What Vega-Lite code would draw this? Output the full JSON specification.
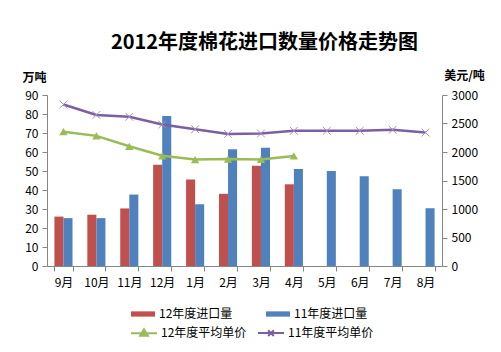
{
  "$schema": "https://vega.github.io/schema/vega-lite/v6.json",
  "autosize": "none",
  "width": 395,
  "height": 171,
  "padding": {"left": 47, "right": 59, "top": 95, "bottom": 86},
  "background": "white",
  "config": {
    "font": "Noto Sans CJK SC",
    "view": {"stroke": null},
    "axis": {"labelFont": "Noto Sans CJK SC", "labelFontSize": 12, "labelColor": "#000000", "domainColor": "#868686", "tickColor": "#868686", "grid": false, "titleFont": "Noto Sans CJK SC"},
    "legend": {"labelFont": "Noto Sans CJK SC", "labelFontSize": 12, "labelColor": "#000000"}
  },
  "title": {"text": "2012年度棉花进口数量价格走势图", "fontSize": 20, "fontWeight": "bold", "font": "Noto Sans CJK SC", "color": "#000000", "offset": 16, "dx": 20},
  "data": {"values": [
    {"month": "9月", "series": "12年度进口量", "value": 26},
    {"month": "10月", "series": "12年度进口量", "value": 27},
    {"month": "11月", "series": "12年度进口量", "value": 30.3},
    {"month": "12月", "series": "12年度进口量", "value": 53.3},
    {"month": "1月", "series": "12年度进口量", "value": 45.5},
    {"month": "2月", "series": "12年度进口量", "value": 38},
    {"month": "3月", "series": "12年度进口量", "value": 52.8},
    {"month": "4月", "series": "12年度进口量", "value": 43},
    {"month": "9月", "series": "11年度进口量", "value": 25.2},
    {"month": "10月", "series": "11年度进口量", "value": 25.2},
    {"month": "11月", "series": "11年度进口量", "value": 37.6},
    {"month": "12月", "series": "11年度进口量", "value": 79},
    {"month": "1月", "series": "11年度进口量", "value": 32.5},
    {"month": "2月", "series": "11年度进口量", "value": 61.5},
    {"month": "3月", "series": "11年度进口量", "value": 62.2},
    {"month": "4月", "series": "11年度进口量", "value": 51},
    {"month": "5月", "series": "11年度进口量", "value": 50},
    {"month": "6月", "series": "11年度进口量", "value": 47.3},
    {"month": "7月", "series": "11年度进口量", "value": 40.4},
    {"month": "8月", "series": "11年度进口量", "value": 30.4},
    {"month": "9月", "series": "12年度平均单价", "price": 2357},
    {"month": "10月", "series": "12年度平均单价", "price": 2283},
    {"month": "11月", "series": "12年度平均单价", "price": 2100},
    {"month": "12月", "series": "12年度平均单价", "price": 1933},
    {"month": "1月", "series": "12年度平均单价", "price": 1867},
    {"month": "2月", "series": "12年度平均单价", "price": 1877},
    {"month": "3月", "series": "12年度平均单价", "price": 1870},
    {"month": "4月", "series": "12年度平均单价", "price": 1930},
    {"month": "9月", "series": "11年度平均单价", "price": 2833},
    {"month": "10月", "series": "11年度平均单价", "price": 2650},
    {"month": "11月", "series": "11年度平均单价", "price": 2617},
    {"month": "12月", "series": "11年度平均单价", "price": 2483},
    {"month": "1月", "series": "11年度平均单价", "price": 2400},
    {"month": "2月", "series": "11年度平均单价", "price": 2317},
    {"month": "3月", "series": "11年度平均单价", "price": 2325},
    {"month": "4月", "series": "11年度平均单价", "price": 2372},
    {"month": "5月", "series": "11年度平均单价", "price": 2372},
    {"month": "6月", "series": "11年度平均单价", "price": 2372},
    {"month": "7月", "series": "11年度平均单价", "price": 2390},
    {"month": "8月", "series": "11年度平均单价", "price": 2342}
  ]},
  "encoding": {
    "x": {
      "field": "month", "type": "nominal",
      "scale": {"domain": ["9月","10月","11月","12月","1月","2月","3月","4月","5月","6月","7月","8月"], "paddingInner": 0.45, "paddingOuter": 0.225},
      "axis": {"title": null, "labelAngle": 0, "tickBand": "extent", "tickSize": 5, "labelPadding": 6}
    }
  },
  "layer": [
    {
      "transform": [{"filter": "datum.value != null"}],
      "mark": {"type": "bar"},
      "encoding": {
        "xOffset": {"field": "series", "type": "nominal", "scale": {"domain": ["12年度进口量", "11年度进口量"], "paddingInner": 0}},
        "y": {
          "field": "value", "type": "quantitative",
          "scale": {"domain": [0, 90], "nice": false},
          "axis": {"title": "万吨", "titleAngle": 0, "titleAlign": "center", "titleBaseline": "middle", "titleX": -13, "titleY": -18, "titleFontSize": 12, "titleFontWeight": "bold", "values": [0,10,20,30,40,50,60,70,80,90], "tickSize": 5, "labelPadding": 4, "labelOverlap": false}
        },
        "color": {
          "field": "series", "type": "nominal",
          "scale": {"domain": ["12年度进口量", "11年度进口量"], "range": ["#C0504D", "#4F81BD"]},
          "legend": {"title": null, "orient": "none", "legendX": 83, "legendY": 206, "direction": "horizontal", "symbolType": "M-1,-0.22H1V0.22H-1Z", "symbolSize": 576, "symbolOpacity": 1, "columnPadding": 32, "labelOffset": 3}
        }
      }
    },
    {
      "transform": [{"filter": "datum.price != null"}],
      "encoding": {
        "y": {
          "field": "price", "type": "quantitative",
          "scale": {"domain": [0, 3000], "nice": false},
          "axis": {"orient": "right", "title": "美元/吨", "titleAngle": 0, "titleAlign": "center", "titleBaseline": "middle", "titleX": 22, "titleY": -20, "titleFontSize": 12, "titleFontWeight": "bold", "values": [0,500,1000,1500,2000,2500,3000], "format": "d", "tickSize": 5, "labelPadding": 4, "labelOverlap": false}
        }
      },
      "layer": [
        {
          "mark": {"type": "line", "strokeWidth": 2.5},
          "encoding": {
            "stroke": {
              "field": "series", "type": "nominal",
              "scale": {"domain": ["12年度平均单价", "11年度平均单价"], "range": ["#9BBB59", "#7B5FA3"]},
              "legend": {
                "title": null, "orient": "none", "legendX": 83, "legendY": 224, "direction": "horizontal",
                "symbolSize": 676, "symbolStrokeWidth": 2, "columnPadding": 7, "labelOffset": 3,
                "encode": {"symbols": {"update": {
                  "shape": {"signal": "datum.value == '12年度平均单价' ? 'M-1,0H1M0,-0.3L0.3,0.2L-0.3,0.2Z' : 'M-1,0H1M-0.22,-0.22L0.22,0.22M-0.22,0.22L0.22,-0.22'"},
                  "fill": {"signal": "datum.value == '12年度平均单价' ? '#9BBB59' : 'transparent'"},
                  "fillOpacity": {"value": 1}
                }}}
              }
            }
          }
        },
        {
          "transform": [{"filter": "datum.series == '12年度平均单价'"}],
          "mark": {"type": "point", "shape": "triangle-up", "filled": true, "size": 70, "color": "#9BBB59", "opacity": 1}
        },
        {
          "transform": [{"filter": "datum.series == '11年度平均单价'"}],
          "mark": {"type": "point", "shape": "M-1,-1L1,1M-1,1L1,-1", "filled": false, "size": 60, "strokeWidth": 1, "color": "#A58FC6", "opacity": 1}
        }
      ]
    }
  ],
  "resolve": {"scale": {"y": "independent"}}
}
